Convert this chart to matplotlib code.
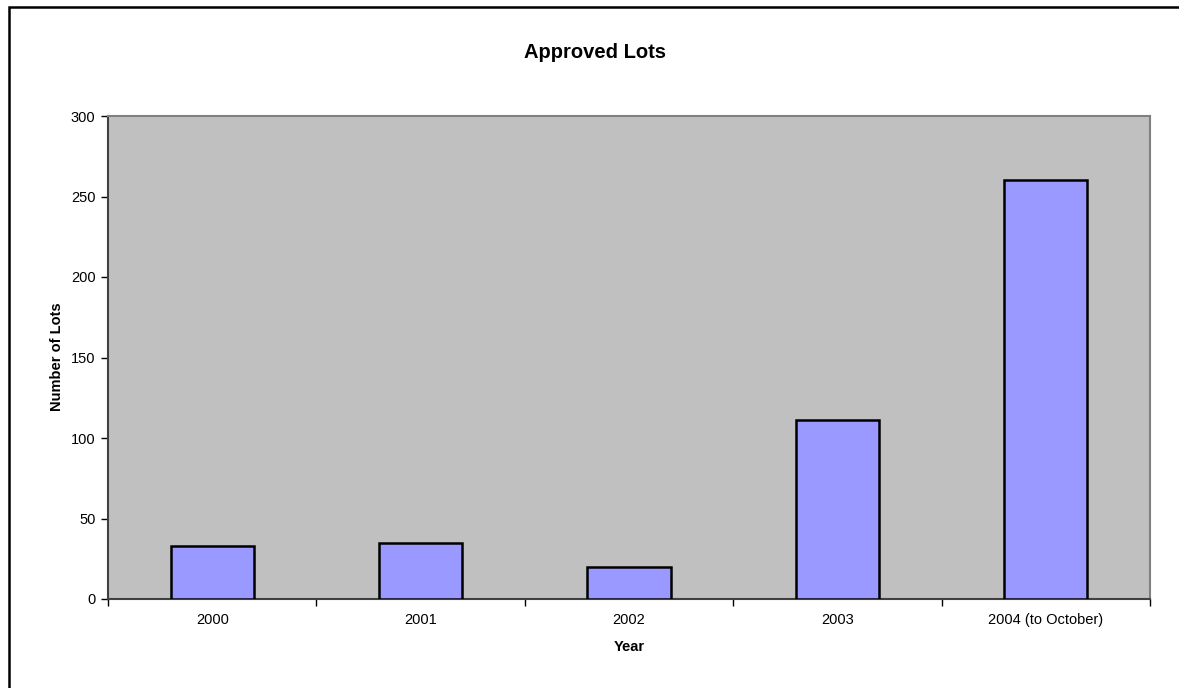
import matplotlib
matplotlib.use("Agg")
import matplotlib.pyplot as plt
from matplotlib.patches import Rectangle
import numpy as np

plt.rcParams['font.family'] = ['Liberation Sans', 'DejaVu Sans']

# Approved lots per year
categories = ["2000", "2001", "2002", "2003", "2004 (to October)"]
lots = [33, 35, 20, 111, 260]
y_ticks = [0, 50, 100, 150, 200, 250, 300]

W, H = 1179, 688
fig = plt.figure(figsize=(W / 100, H / 100), dpi=100)
fig.patch.set_facecolor("white")

# Chart frame (left and top edges visible; continues beyond the canvas)
fig.add_artist(Rectangle((9 / W, -0.05), 1.2, (H - 7) / H + 0.05,
                         transform=fig.transFigure, fill=False,
                         edgecolor="black", linewidth=1.8))

ax = fig.add_axes([108 / W, 1 - 599 / H, (1150 - 108) / W, (599 - 116) / H])
ax.set_facecolor("#C0C0C0")

x = np.arange(len(categories))
ax.bar(x, lots, width=0.4, color="#9999FF", edgecolor="black", linewidth=1.8,
       zorder=3)

ax.set_xlim(-0.5, len(categories) - 0.5)
ax.set_ylim(0, 300)
ax.set_yticks(y_ticks)
ax.set_yticklabels([str(v) for v in y_ticks], fontsize=10.5)

# Category boundaries carry the tick marks; labels sit at the centers
ax.set_xticks(np.arange(-0.5, len(categories), 1.0))
ax.set_xticklabels([])
ax.set_xticks(x, minor=True)
ax.set_xticklabels(categories, minor=True, fontsize=10.5)
ax.tick_params(axis="x", which="minor", length=0, pad=10)
ax.tick_params(axis="x", which="major", length=5, width=1, color="black",
               direction="out")
ax.tick_params(axis="y", length=5, width=1, color="black", direction="out",
               pad=4)

for side in ["top", "right"]:
    ax.spines[side].set_color("#808080")
    ax.spines[side].set_linewidth(1.5)
for side in ["left", "bottom"]:
    ax.spines[side].set_color("#404040")
    ax.spines[side].set_linewidth(1.5)

fig.text(595 / W, 1 - 53 / H, "Approved Lots", ha="center", va="center",
         fontsize=14.5, fontweight="bold")
fig.text(629 / W, 1 - 647 / H, "Year", ha="center", va="center",
         fontsize=10.5, fontweight="bold")
fig.text(57 / W, 1 - 357 / H, "Number of Lots", ha="center", va="center",
         rotation=90, fontsize=10.5, fontweight="bold")

fig.savefig("out.png", dpi=100)
